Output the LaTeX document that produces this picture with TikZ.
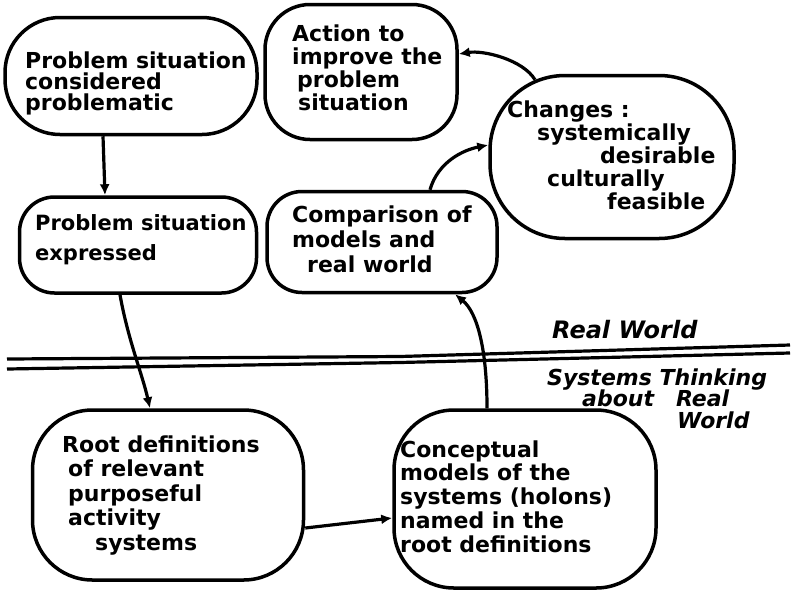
\documentclass[tikz,border=0pt]{standalone}
\usepackage{fontspec}
\setmainfont{DejaVu Sans}
\usetikzlibrary{arrows.meta,calc}
\begin{document}
\begin{tikzpicture}[x=1pt,y=-1pt,
  blob/.style={draw, line width=3.5pt, rounded corners=#1, inner sep=0pt},
  blob/.default=40pt,
  % multi-line text sits on the baseline of its last line
  lettering/.style={anchor=base west, align=left, inner sep=0pt,
    font=\bfseries\fontsize{22}{#1}\selectfont},
  lettering/.default=23,
  slanted/.style={anchor=base west, align=left, inner sep=0pt,
    font=\bfseries\itshape\fontsize{#1}{21.5}\selectfont},
  slanted/.default=22,
  link/.style={line width=3.2pt, -{Latex[length=11pt,width=10pt]}},
  boundary/.style={line width=3.2pt}]
\useasboundingbox (0,0) rectangle (802,592);
\fill[white] (0,0) rectangle (802,592);

% stages of the inquiry
\node[blob=55pt, minimum width=252pt, minimum height=117pt] (b1) at (131,76) {};
\node[blob=45pt, minimum width=192pt, minimum height=135pt] (b2) at (361,72) {};
\node[blob=75pt, minimum width=244pt, minimum height=163pt] (b3) at (612,157) {};
\node[blob=35pt, minimum width=230pt, minimum height=101pt] (b4) at (382,242) {};
\node[blob=35pt, minimum width=237pt, minimum height=96pt] (b5) at (138,245) {};
\node[blob=60pt, minimum width=271pt, minimum height=170pt] (b8) at (168,495) {};
\node[blob=60pt, minimum width=262pt, minimum height=178pt] (b9) at (525,499) {};

% lettering inside each stage
\node[lettering=21] (t1) at (25,110) {Problem situation\\considered\\problematic};
\node[lettering=22.7] (t2) at (292,110) {Action to\\improve the\\\hspace*{5pt}problem\\\hspace*{6pt}situation};
\node[lettering=23] (t3) at (507,209) {Changes :\\\hspace*{30pt}systemically\\\hspace*{93pt}desirable\\\hspace*{40pt}culturally\\\hspace*{100pt}feasible};
\node[lettering=25] (t4) at (292,272) {Comparison of\\models and\\\hspace*{15pt}real world};
\node[lettering=30, font=\bfseries\fontsize{21}{30}\selectfont] (t5) at (35,260) {Problem situation\\expressed};
\node[lettering=24.5] (t8) at (62,550) {Root definitions\\\hspace*{6pt}of relevant\\\hspace*{6pt}purposeful\\\hspace*{6pt}activity\\\hspace*{33pt}systems};
\node[lettering=23.7] (t9) at (400,552) {Conceptual\\models of the\\systems (holons)\\named in the\\root definitions};

% boundary between the real world and systems thinking
\draw[boundary] (7,359) -- (400,356.5) -- (790,345);
\draw[boundary] (7,369) -- (400,362.5) -- (790,353);
\node[slanted=24] (rw) at (552,338) {Real World};
\node[slanted] (st) at (547,428) {Systems Thinking\\\hspace*{35pt}about\hspace*{22pt}Real\\\hspace*{130pt}World};

% flow between stages
\draw[link] ($(b1.south)+(-28,0)$) -- ($(b5.north)+(-33,0)$);
\draw[link] ($(b5.south)+(-18,0)$) .. controls +(8,45) and +(-8,-35) .. ($(b8.north)+(-18,0)$);
\draw[link] ($(b8.east)+(0,33)$) -- ($(b9.west)+(0,19)$);
\draw[link] ($(b9.north)+(-38,0)$) .. controls +(0,-60) and +(22,18) .. ($(b4.south)+(73,0)$);
\draw[link] ($(b4.north)+(48,0)$) .. controls +(8,-28) and +(-25,5) .. ($(b3.west)+(0,-12)$);
\draw[link] ($(b3.north)+(-77,6)$) .. controls +(-12,-20) and +(25,-4) .. ($(b2.east)+(0,-18)$);
\end{tikzpicture}
\end{document}
